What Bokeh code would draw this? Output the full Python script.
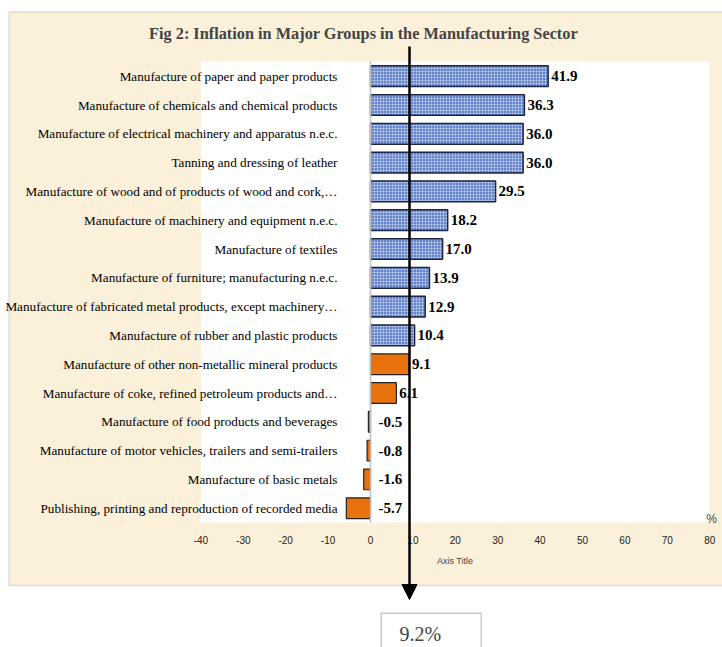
from bokeh.plotting import figure
from bokeh.models import (ColumnDataSource, Range1d, LinearAxis, FixedTicker,
                          BoxAnnotation, Arrow, NormalHead, Label)
from bokeh.core.properties import value
from bokeh.embed import file_html
from bokeh.resources import INLINE

# ---------------- data ----------------
categories = [
    "Manufacture of paper and paper products",
    "Manufacture of chemicals and chemical products",
    "Manufacture of electrical machinery and apparatus n.e.c.",
    "Tanning and dressing of leather",
    "Manufacture of wood and of products of wood and cork,\u2026",
    "Manufacture of machinery and equipment n.e.c.",
    "Manufacture of textiles",
    "Manufacture of furniture; manufacturing n.e.c.",
    "Manufacture of fabricated metal products, except machinery\u2026",
    "Manufacture of rubber and plastic products",
    "Manufacture of other non-metallic mineral products",
    "Manufacture of coke, refined petroleum products and\u2026",
    "Manufacture of food products and beverages",
    "Manufacture of motor vehicles, trailers and semi-trailers",
    "Manufacture of basic metals",
    "Publishing, printing and reproduction of recorded media",
]
inflation = [41.9, 36.3, 36.0, 36.0, 29.5, 18.2, 17.0, 13.9, 12.9, 10.4,
             9.1, 6.1, -0.5, -0.8, -1.6, -5.7]
average = 9.2
x_ticks = [-40, -30, -20, -10, 0, 10, 20, 30, 40, 50, 60, 70, 80]
x_tick_labels = ["-40", "-30", "-20", "-10", "0", "10", "20", "30", "40", "50", "60", "70", "80"]
title_text = "Fig 2: Inflation in Major Groups in the Manufacturing Sector"
x_title = "Axis Title"
unit_text = "%"

# ---------------- layout helpers (page pixels -> data) ----------------
W, H = 722, 647
ORIGIN = 0           # page offset of the canvas
ZERO_PX = 370.0      # page x of value 0
PX_PER_UNIT = 4.24
ROW0_PX = 75.7       # page y of first category centre
ROW_PX = 28.8


def xdat(page_x):
    return (page_x - ZERO_PX) / PX_PER_UNIT


def ydat(page_y):
    return (page_y - ROW0_PX) / ROW_PX


n = len(categories)
idx = list(range(n))

p = figure(width=W, height=H,
           x_range=Range1d(xdat(ORIGIN), xdat(ORIGIN + W)),
           y_range=Range1d(ydat(ORIGIN + H), ydat(ORIGIN)),
           x_axis_type=None, y_axis_type=None,
           output_backend="svg", toolbar_location=None,
           min_border=0, outline_line_color=None,
           background_fill_color="white", border_fill_color="white")
p.grid.visible = False

# chart background (parchment) and plot area
p.add_layout(BoxAnnotation(left=xdat(8.5), right=xdat(760), top=ydat(11.5), bottom=ydat(585),
                           fill_color="#FBF0DA", fill_alpha=1.0,
                           line_color="#A0A0A0", line_width=1.5, level="underlay"))
p.add_layout(BoxAnnotation(left=min(x_ticks), right=max(x_ticks), top=-0.5, bottom=n - 0.5,
                           fill_color="white", fill_alpha=1.0, line_color=None,
                           level="underlay"))

# bars
hi = [i for i in idx if inflation[i] > average]
lo = [i for i in idx if inflation[i] <= average]
src_hi = ColumnDataSource(dict(y=hi, right=[inflation[i] for i in hi]))
src_lo = ColumnDataSource(dict(y=lo, right=[inflation[i] for i in lo]))

p.hbar(y="y", right="right", left=0, height=0.72, source=src_hi,
       fill_color="#6384CC", line_color="#1C2440", line_width=1.5,
       hatch_pattern="cross", hatch_color="white", hatch_alpha=0.35,
       hatch_scale=3, hatch_weight=1)
p.hbar(y="y", right="right", left=0, height=0.72, source=src_lo,
       fill_color="#E8720E", line_color="#222222", line_width=1.2)

# value labels
lab_src = ColumnDataSource(dict(
    x=[max(v, 0) for v in inflation],
    y=idx,
    off=[3 if v >= 0 else 8 for v in inflation],
    txt=[f"{v:.1f}" for v in inflation],
))
p.text(x="x", y="y", text="txt", x_offset="off", source=lab_src,
       text_font=value("Liberation Serif"), text_font_style="bold",
       text_font_size="15px", text_baseline="middle", text_align="left",
       text_color="black")

# axes
xaxis = LinearAxis(ticker=FixedTicker(ticks=x_ticks), fixed_location=n - 0.5,
                   bounds=(min(x_ticks), max(x_ticks)),
                   major_label_overrides=dict(zip(x_ticks, x_tick_labels)),
                   axis_line_color=None, major_tick_line_color=None,
                   minor_tick_line_color=None, major_tick_in=0, major_tick_out=0,
                   major_label_standoff=13,
                   major_label_text_font="Liberation Sans",
                   major_label_text_font_size="10px",
                   major_label_text_color="#222222",
                   axis_label=x_title, axis_label_text_font="Liberation Sans",
                   axis_label_text_font_size="9px", axis_label_text_font_style="normal",
                   axis_label_standoff=9)
p.add_layout(xaxis, "below")

yaxis = LinearAxis(ticker=FixedTicker(ticks=idx),
                   major_label_overrides={i: c for i, c in enumerate(categories)},
                   fixed_location=0, bounds=(-0.5, n - 0.5),
                   axis_line_color="#BFBFBF", axis_line_width=1.5,
                   major_tick_line_color=None, minor_tick_line_color=None,
                   major_tick_in=0, major_tick_out=0,
                   major_label_standoff=33,
                   major_label_text_font="Liberation Serif",
                   major_label_text_font_size="13.2px",
                   major_label_text_color="black")
p.add_layout(yaxis, "left")

# title and unit
p.add_layout(Label(x=xdat(363), y=ydat(33), text=title_text, text_align="center",
                   text_baseline="middle", text_font="Liberation Serif",
                   text_font_style="bold", text_font_size="16.3px"))
p.add_layout(Label(x=xdat(711), y=ydat(518), text=unit_text, text_align="center",
                   text_baseline="alphabetic", text_font="Liberation Sans",
                   text_font_size="12px"))

# average arrow and box
p.add_layout(Arrow(x_start=average, y_start=ydat(46), x_end=average, y_end=ydat(599),
                   line_width=2.5, line_color="black",
                   end=NormalHead(size=15, fill_color="black", line_color="black")))
p.add_layout(BoxAnnotation(left=xdat(380.7), right=xdat(480.7), top=ydat(612.7),
                           bottom=ydat(700), fill_color="white", fill_alpha=1.0,
                           line_color="black", line_width=1))
p.add_layout(Label(x=average, y=ydat(622), x_offset=-10, text=f"{average}%",
                   text_align="left", text_baseline="top",
                   text_font="Liberation Serif", text_font_size="20px"))

open("out.html", "w").write(file_html(p, INLINE))
